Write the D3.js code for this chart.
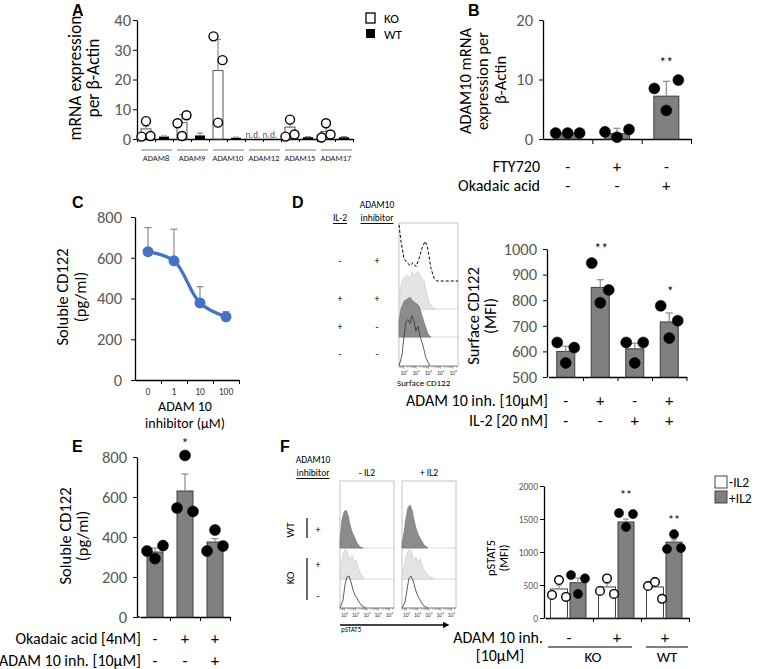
<!DOCTYPE html>
<html><head><meta charset="utf-8">
<script src="https://cdn.jsdelivr.net/npm/d3@7"></script>
<style>body{margin:0;background:#fff}svg{display:block}</style>
</head><body><svg id="c" width="758" height="669"></svg>
<script>
// ================= DATA =================
// Panel A
const aGenes=["ADAM8","ADAM9","ADAM10","ADAM12","ADAM15","ADAM17"];
const aSeries=["KO","WT"];
const aKOMean=[3.4,5.5,23,null,4,2.5];
const aKOErrTop=[4.3,8.2,33.5,null,6.7,4.2];
const aKOPts=[[0.8,6,1],[5.3,1,8],[34.5,5.5,26.5],null,[0.8,6.5,1.5],[0.5,5.3,1.5]];
const aWTMean=[0.8,1.2,0.4,null,0.6,0.6];
const aWTErrTop=[1.0,2.0,0.6,null,0.8,0.8];
const aYTicks=[0,10,20,30,40];
// Panel B
const bMean=[1.0,0.9,7.2];
const bErrTop=[1.0,1.8,9.7];
const bPts=[[1,1,1],[1.2,0.3,1.6],[8.5,4.8,9.9]];
const bFTY=["-","+","-"];
const bOka=["-","-","+"];
const bSig=["","","**"];
const bYTicks=[0,10,20];
// Panel C
const cDose=["0","1","10","100"];
const cMean=[630,585,378,310];
const cErrTop=[748,740,458,335];
const cYTicks=[0,200,400,600,800];
// Panel D (bars)
const dMean=[600,850,610,715];
const dErrTop=[620,880,632,750];
const dPts=[[635,555,615],[945,790,840],[635,555,635],[778,652,720]];
const dInh=["-","+","-","+"];
const dIL2=["-","-","+","+"];
const dSig=["","**","","*"];
const dYTicks=[500,600,700,800,900,1000];
// Panel D (histograms: [log10 MFI, count])
const dHistIL2=["-","+","+","-"];
const dHistInh=["+","+","-","-"];
const dHistDashed=[[0.6,58],[0.76,41],[1.01,23],[1.25,19],[1.5,16],[1.74,19],[1.98,15],[2.23,23],[2.47,34],[2.72,41],[2.88,37],[3.04,26],[3.2,13],[3.45,3],[3.69,0],[5.4,0]];
const dHistLight=[[0.6,9],[0.76,24],[1.01,33],[1.25,35],[1.5,32],[1.66,38],[1.9,35],[2.15,39],[2.39,33],[2.64,29],[2.8,19],[3.04,7],[3.29,2],[3.61,0]];
const dHistDark=[[0.6,17],[0.76,29],[1.01,37],[1.25,39],[1.5,41],[1.74,37],[1.98,35],[2.23,32],[2.47,22],[2.72,12],[2.96,3],[3.2,0]];
const dHistOpen=[[0.6,0],[0.84,11],[1.01,31],[1.17,46],[1.33,48],[1.5,44],[1.66,52],[1.82,46],[1.98,36],[2.15,41],[2.31,31],[2.55,21],[2.8,8],[3.12,0]];
// Panel E
const eMean=[325,630,375];
const eErrTop=[345,715,392];
const ePts=[[330,292,357],[545,808,528],[330,435,355]];
const eOka=["-","+","+"];
const eInh=["-","-","+"];
const eSig=["","*",""];
const eYTicks=[0,200,400,600,800];
// Panel F (histograms)
const fHistCols=["- IL2","+ IL2"];
const fHistWT=[
  [[0.6,8],[0.78,28],[0.96,36],[1.13,38],[1.31,33],[1.49,23],[1.67,16],[1.84,12],[2.11,5],[2.38,1],[2.64,0]],
  [[0.6,5],[0.78,15],[0.96,30],[1.13,40],[1.31,43],[1.49,38],[1.67,28],[1.84,20],[2.02,14],[2.29,8],[2.56,3],[2.91,0]]];
const fHistKOinh=[
  [[0.6,4],[0.78,19],[0.96,27],[1.13,31],[1.31,24],[1.49,19],[1.67,24],[1.84,17],[2.02,19],[2.2,11],[2.47,4],[2.73,0]],
  [[0.6,3],[0.78,12],[0.96,22],[1.13,28],[1.31,31],[1.49,25],[1.67,18],[1.84,22],[2.02,16],[2.2,20],[2.38,14],[2.56,9],[2.82,5],[3.09,2],[3.44,0]]];
const fHistKO=[
  [[0.6,0],[0.87,8],[1.04,23],[1.22,31],[1.4,32],[1.58,26],[1.76,18],[1.93,13],[2.11,10],[2.29,6],[2.56,2],[2.91,0]],
  [[0.6,0],[0.87,6],[1.04,18],[1.22,30],[1.4,32],[1.58,28],[1.76,20],[1.93,14],[2.11,10],[2.29,6],[2.56,2],[2.91,0]]];
// Panel F (bars)
const fSeries=["-IL2","+IL2"];
const fInh=["-","+","+"];
const fGeno=["KO","WT"];
const fNoMean=[440,470,470];
const fNoErrTop=[500,530,510];
const fNoPts=[[350,575,320],[410,600,365],[485,545,290]];
const fILMean=[535,1455,1150];
const fILErrTop=[606,1500,1185];
const fILPts=[[650,365,600],[1590,1380,1575],[1045,1270,1060]];
const fSig=["","**","**"];
const fYTicks=[0,500,1000,1500,2000];
const histDecades=["10¹","10²","10³","10⁴","10⁵"];

// ================= DRAWING =================
const svg=d3.select("#c");
const FONT='Carlito, Lato, "Open Sans", sans-serif';
const GREY="#595959", BARFILL="#808080", BARSTROKE="#3c3c3c", ERR="#8a8a8a";
const TF=16.5, TT=16.5, LF=16;

function txt(x,y,s,o={}){
  const t=svg.append("text").attr("x",x).attr("y",y).attr("font-size",o.fs||13)
    .attr("fill",o.fill||"#000").attr("text-anchor",o.anchor||"middle")
    .attr("dominant-baseline","central").attr("font-family",o.ff||FONT).text(s);
  if(o.bold) t.attr("font-weight","bold");
  if(o.rot) t.attr("transform",`rotate(-90,${x},${y})`);
  if(o.ul) t.attr("text-decoration","underline");
  return t;
}
function letter(x,y,s){ svg.append("text").attr("x",x).attr("y",y).attr("font-size",16).attr("font-weight","bold").attr("font-family","Liberation Sans, Arial, sans-serif").text(s); }
function leftAxis(y,x0,ticks,fs,pad){
  const g=svg.append("g").attr("transform",`translate(${x0},0)`)
    .call(d3.axisLeft(y).tickValues(ticks).tickFormat(d3.format("d")).tickSize(4).tickSizeOuter(0).tickPadding(pad==null?3:pad));
  g.select(".domain").attr("stroke","#000").attr("stroke-width",1.3);
  g.selectAll(".tick line").attr("stroke","#000");
  g.selectAll(".tick text").attr("fill",GREY).attr("font-size",fs).attr("font-family",FONT);
}
function bottomAxis(x,y0,ticks,size){
  const g=svg.append("g").attr("transform",`translate(0,${y0})`)
    .call(d3.axisBottom(x).tickValues(ticks).tickSize(size||4).tickSizeOuter(0).tickFormat(""));
  g.select(".domain").attr("stroke","#000").attr("stroke-width",1.3);
  g.selectAll(".tick line").attr("stroke","#000");
}
function errBar(x,y1,y2,cap,col){
  svg.append("line").attr("x1",x).attr("x2",x).attr("y1",y1).attr("y2",y2).attr("stroke",col||ERR).attr("stroke-width",1.2);
  svg.append("line").attr("x1",x-cap).attr("x2",x+cap).attr("y1",y2).attr("y2",y2).attr("stroke",col||ERR).attr("stroke-width",1.2);
}
function dot(x,y,r,fill){
  svg.append("circle").attr("cx",x).attr("cy",y).attr("r",r).attr("fill",fill).attr("stroke","#000").attr("stroke-width",fill==="#fff"?1.4:0.5);
}

// ---------- Panel A ----------
letter(72,16,"A");
{
  const y=d3.scaleLinear().domain([0,40]).range([139,20]);
  const xg=d3.scaleBand().domain(aGenes).range([137,353]);
  const xi=d3.scaleLinear().domain([0,12]).range([137,353]);
  leftAxis(y,137,aYTicks,TF,2);
  bottomAxis(xi,139,d3.range(0,13),3);
  const bw=10;
  aGenes.forEach((g,i)=>{
    const c=xg(g)+xg.bandwidth()/2, ko=c-9, wt=c+9;
    if(aKOMean[i]==null){
      txt(ko-1,135,"n.d.",{fs:9.5,fill:GREY}); txt(wt-2,135,"n.d.",{fs:9.5,fill:GREY});
    } else {
      svg.append("rect").attr("x",ko-bw/2).attr("y",y(aKOMean[i])).attr("width",bw).attr("height",y(0)-y(aKOMean[i])).attr("fill","#fff").attr("stroke","#555").attr("stroke-width",1);
      svg.append("rect").attr("x",wt-bw/2).attr("y",y(aWTMean[i])).attr("width",bw).attr("height",y(0)-y(aWTMean[i])).attr("fill","#000");
      errBar(ko,y(aKOMean[i]),y(aKOErrTop[i]),3);
      errBar(wt,y(aWTMean[i]),y(aWTErrTop[i]),3);
      aKOPts[i].forEach((v,j)=>dot(ko+(j-1)*4.5,y(v),4.5,"#fff"));
    }
    svg.append("line").attr("x1",xg(g)+4).attr("x2",xg(g)+xg.bandwidth()-1).attr("y1",150).attr("y2",150).attr("stroke","#555").attr("stroke-width",0.8);
    txt(c+1,158,g,{fs:8.5,fill:"#222"});
  });
  txt(75,78,"mRNA expression",{rot:true,fs:17.5});
  txt(93,78,"per β-Actin",{rot:true,fs:17.5});
  // legend
  svg.append("rect").attr("x",366).attr("y",13).attr("width",9).attr("height",10).attr("fill","#fff").attr("stroke","#000").attr("stroke-width",1.3);
  svg.append("rect").attr("x",366).attr("y",29).attr("width",9).attr("height",9).attr("fill","#000");
  txt(384,18,aSeries[0],{fs:13,anchor:"start"});
  txt(384,34,aSeries[1],{fs:13,anchor:"start"});
}

// ---------- Panel B ----------
letter(468,16,"B");
{
  const y=d3.scaleLinear().domain([0,20]).range([139,20]);
  const xg=d3.scaleBand().domain(d3.range(3)).range([543,691]);
  const xi=d3.scaleLinear().domain([0,3]).range([543,691]);
  leftAxis(y,543,bYTicks,TF,6);
  bottomAxis(xi,139,[1,2,3],5);
  bMean.forEach((m,i)=>{
    const c=xg(i)+xg.bandwidth()/2;
    svg.append("rect").attr("x",c-12.5).attr("y",y(m)).attr("width",25).attr("height",y(0)-y(m)).attr("fill",BARFILL).attr("stroke",BARSTROKE).attr("stroke-width",1);
    errBar(c,y(m),y(bErrTop[i]),3.5);
    bPts[i].forEach((v,j)=>dot(c+(j-1)*12,y(v),5.5,"#000"));
    if(bSig[i]) txt(c,62,bSig[i],{fs:14});
    txt(c,166,bFTY[i],{fs:LF}); txt(c,185,bOka[i],{fs:LF});
  });
  txt(540,166,"FTY720",{fs:LF,anchor:"end"});
  txt(540,185,"Okadaic acid",{fs:LF,anchor:"end"});
  txt(465,81,"ADAM10 mRNA",{rot:true,fs:TT});
  txt(482,81,"expression per",{rot:true,fs:TT});
  txt(500,80,"β-Actin",{rot:true,fs:TT});
}

// ---------- Panel C ----------
letter(72,208,"C");
{
  const y=d3.scaleLinear().domain([0,800]).range([380,217]);
  const x=d3.scalePoint().domain(cDose).range([148,226]);
  const xi=d3.scaleLinear().domain([0,4]).range([135,239]);
  leftAxis(y,135,cYTicks,TF,9);
  bottomAxis(xi,380,[1,2,3,4],4);
  cDose.forEach((d,i)=>{ errBar(x(d),y(cMean[i]),y(cErrTop[i]),3.5); txt(x(d),392,d,{fs:9.5,fill:"#333"}); });
  const line=d3.line().x((d,i)=>x(cDose[i])).y(d=>y(d)).curve(d3.curveCatmullRom.alpha(0.5));
  svg.append("path").attr("d",line(cMean)).attr("fill","none").attr("stroke","#4472C4").attr("stroke-width",3.2);
  cMean.forEach((m,i)=>svg.append("circle").attr("cx",x(cDose[i])).attr("cy",y(m)).attr("r",5.5).attr("fill","#4472C4"));
  txt(185,406,"ADAM 10",{fs:14});
  txt(185,423,"inhibitor (µM)",{fs:14});
  txt(62,297,"Soluble CD122",{rot:true,fs:TT});
  txt(80,297,"(pg/ml)",{rot:true,fs:TT});
}

// ---------- histogram helpers ----------
function hist(data,x,base,hy,style){
  const area=d3.area().x(d=>x(d[0])).y0(base).y1(d=>base-hy(d[1]));
  const line=d3.line().x(d=>x(d[0])).y(d=>base-hy(d[1]));
  if(style==="dashed") svg.append("path").attr("d",line(data)).attr("fill","none").attr("stroke","#000").attr("stroke-width",1).attr("stroke-dasharray","3,2");
  else if(style==="light") svg.append("path").attr("d",area(data)).attr("fill","#e4e4e4").attr("stroke","#cfcfcf").attr("stroke-width",0.8);
  else if(style==="dark") svg.append("path").attr("d",area(data)).attr("fill","#8c8c8c").attr("stroke","#7a7a7a").attr("stroke-width",0.8);
  else svg.append("path").attr("d",line(data)).attr("fill","none").attr("stroke","#333").attr("stroke-width",0.8);
}
function histAxis(xl,x0,x1,y0,labelFs){
  svg.append("line").attr("x1",x0).attr("x2",x1).attr("y1",y0).attr("y2",y0).attr("stroke","#888").attr("stroke-width",0.8);
  const xs=d3.scaleLog().domain([Math.pow(10,0.6),Math.pow(10,5.4)]).range([x0,x1]);
  xs.ticks().forEach(t=>{
    const major=Math.abs(Math.log10(t)-Math.round(Math.log10(t)))<1e-9;
    svg.append("line").attr("x1",xs(t)).attr("x2",xs(t)).attr("y1",y0).attr("y2",y0+(major?3:1.8)).attr("stroke","#777").attr("stroke-width",0.5);
  });
  histDecades.forEach((s,i)=>txt(xl(i+1),y0+6.5,s,{fs:labelFs,fill:"#333"}));
}

// ---------- Panel D histograms ----------
letter(292,208,"D");
{
  const x0=399,x1=458,top=223,bases=[281,309,337,366];
  const x=d3.scaleLinear().domain([0.6,5.4]).range([x0,x1]);
  const hy=d3.scaleLinear().domain([0,60]).range([0,58]);
  svg.append("rect").attr("x",x0).attr("y",top).attr("width",x1-x0).attr("height",bases[3]-top).attr("fill","none").attr("stroke","#c4c4c4").attr("stroke-width",1);
  [309,337].forEach(b=>svg.append("line").attr("x1",x0).attr("x2",x1).attr("y1",b).attr("y2",b).attr("stroke","#cfcfcf").attr("stroke-width",0.8));
  hist(dHistDashed,x,bases[0],hy,"dashed");
  hist(dHistLight,x,bases[1],hy,"light");
  hist(dHistDark,x,bases[2],hy,"dark");
  hist(dHistOpen,x,bases[3],hy,"open");
  histAxis(x,x0,x1,bases[3],5.5);
  txt(x0-2,382,"Surface CD122",{fs:9,anchor:"start"});
  txt(340,218,"IL-2",{fs:9.5,ul:true});
  txt(377,205,"ADAM10",{fs:9.5});
  txt(377,218,"inhibitor",{fs:9.5,ul:true});
  const rowY=[260,298,326,353];
  rowY.forEach((ry,i)=>{ txt(340,ry,dHistIL2[i],{fs:10}); txt(377,ry,dHistInh[i],{fs:10}); });
}
// ---------- Panel D bars ----------
{
  const y=d3.scaleLinear().domain([500,1000]).range([377,249]);
  const xg=d3.scaleBand().domain(d3.range(4)).range([548.5,686.5]);
  const xi=d3.scaleLinear().domain([0,4]).range([548.5,686.5]);
  leftAxis(y,547,dYTicks,TF,6);
  bottomAxis(xi,377,[1,2,3,4],4);
  dMean.forEach((m,i)=>{
    const c=xg(i)+xg.bandwidth()/2;
    svg.append("rect").attr("x",c-9).attr("y",y(m)).attr("width",18).attr("height",y(500)-y(m)).attr("fill",BARFILL).attr("stroke",BARSTROKE).attr("stroke-width",1);
    errBar(c,y(m),y(dErrTop[i]),3.5);
    dPts[i].forEach((v,j)=>dot(c+(j-1)*8.5,y(v),5.5,"#000"));
    if(dSig[i]) txt(c+1,dSig[i]==="**"?248:291,dSig[i],{fs:14});
    txt(c,400,dInh[i],{fs:LF}); txt(c,420,dIL2[i],{fs:LF});
  });
  txt(548,400,"ADAM 10 inh. [10µM]",{fs:LF,anchor:"end"});
  txt(548,420,"IL-2 [20 nM]",{fs:LF,anchor:"end"});
  txt(473,316,"Surface CD122",{rot:true,fs:TT});
  txt(490,316,"(MFI)",{rot:true,fs:TT});
}

// ---------- Panel E ----------
letter(72,452,"E");
{
  const y=d3.scaleLinear().domain([0,800]).range([617,457]);
  const xg=d3.scaleBand().domain(d3.range(3)).range([140,230]);
  const xi=d3.scaleLinear().domain([0,3]).range([140,230]);
  leftAxis(y,137,eYTicks,TF,6);
  bottomAxis(xi,617,[1,2,3],4);
  svg.append("line").attr("x1",137).attr("x2",140).attr("y1",617).attr("y2",617).attr("stroke","#000").attr("stroke-width",1.3);
  eMean.forEach((m,i)=>{
    const c=xg(i)+xg.bandwidth()/2;
    svg.append("rect").attr("x",c-8).attr("y",y(m)).attr("width",16).attr("height",y(0)-y(m)).attr("fill",BARFILL).attr("stroke",BARSTROKE).attr("stroke-width",1);
    errBar(c,y(m),y(eErrTop[i]),3.5);
    ePts[i].forEach((v,j)=>dot(c+(j-1)*8,y(v),5.5,"#000"));
    if(eSig[i]) txt(c,443,eSig[i],{fs:14});
    txt(c,638,eOka[i],{fs:LF}); txt(c,660,eInh[i],{fs:LF});
  });
  txt(141,638,"Okadaic acid [4nM]",{fs:LF,anchor:"end"});
  txt(141,660,"ADAM 10 inh. [10µM]",{fs:LF,anchor:"end"});
  txt(65,536,"Soluble CD122",{rot:true,fs:TT});
  txt(82,536,"(pg/ml)",{rot:true,fs:TT});
}

// ---------- Panel F histograms ----------
letter(280,452,"F");
{
  const boxes=[[340,394],[402,456]], top=481, bases=[548,579,608];
  const hy=d3.scaleLinear().domain([0,60]).range([0,60]);
  boxes.forEach(([x0,x1],k)=>{
    const x=d3.scaleLinear().domain([0.6,5.4]).range([x0,x1]);
    svg.append("rect").attr("x",x0).attr("y",top).attr("width",x1-x0).attr("height",bases[2]-top).attr("fill","none").attr("stroke","#c4c4c4").attr("stroke-width",1);
    [548,579].forEach(b=>svg.append("line").attr("x1",x0).attr("x2",x1).attr("y1",b).attr("y2",b).attr("stroke","#cfcfcf").attr("stroke-width",0.8));
    hist(fHistWT[k],x,bases[0],hy,"dark");
    hist(fHistKOinh[k],x,bases[1],hy,"light");
    hist(fHistKO[k],x,bases[2],hy,"open");
    histAxis(x,x0,x1,bases[2],5.5);
    txt((x0+x1)/2,473,fHistCols[k],{fs:9.5});
  });
  txt(313,460,"ADAM10",{fs:9.5});
  txt(313,473,"inhibitor",{fs:9.5,ul:true});
  txt(290,530,"WT",{rot:true,fs:11});
  txt(290,578,"KO",{rot:true,fs:11});
  svg.append("line").attr("x1",307).attr("x2",307).attr("y1",518).attr("y2",538).attr("stroke","#444").attr("stroke-width",1.6);
  svg.append("line").attr("x1",307).attr("x2",307).attr("y1",558).attr("y2",600).attr("stroke","#444").attr("stroke-width",1.6);
  txt(318,529,"+",{fs:10}); txt(318,564,"+",{fs:10}); txt(318,595,"-",{fs:10});
  txt(341,629,"pSTAT5",{fs:7,anchor:"start"});
  svg.append("defs").append("marker").attr("id","arr").attr("viewBox","0 0 10 10").attr("refX",8).attr("refY",5)
    .attr("markerWidth",5).attr("markerHeight",5).attr("orient","auto").append("path").attr("d","M0,0L10,5L0,10z").attr("fill","#000");
  svg.append("line").attr("x1",340).attr("x2",448).attr("y1",625).attr("y2",625).attr("stroke","#000").attr("stroke-width",1.3).attr("marker-end","url(#arr)");
}
// ---------- Panel F bars ----------
{
  const y=d3.scaleLinear().domain([0,2000]).range([618,486]);
  const xg=d3.scaleBand().domain(d3.range(3)).range([545,689]);
  const xi=d3.scaleLinear().domain([0,3]).range([545,689]);
  leftAxis(y,544,fYTicks,9.5,2);
  bottomAxis(xi,618,[1,2,3],4);
  fNoMean.forEach((m,i)=>{
    const c=xg(i)+xg.bandwidth()/2, w=c-10, g=c+9;
    svg.append("rect").attr("x",w-8.5).attr("y",y(m)).attr("width",17).attr("height",y(0)-y(m)).attr("fill","#fff").attr("stroke","#444").attr("stroke-width",1);
    svg.append("rect").attr("x",g-8).attr("y",y(fILMean[i])).attr("width",16).attr("height",y(0)-y(fILMean[i])).attr("fill",BARFILL).attr("stroke",BARSTROKE).attr("stroke-width",1);
    errBar(w,y(m),y(fNoErrTop[i]),3);
    errBar(g,y(fILMean[i]),y(fILErrTop[i]),3);
    fNoPts[i].forEach((v,j)=>dot(w+(j-1)*7,y(v),4.3,"#fff"));
    fILPts[i].forEach((v,j)=>dot(g+(j-1)*7,y(v),4.6,"#000"));
    if(fSig[i]) txt(g,i===1?495:520,fSig[i],{fs:12});
    txt(c,637,fInh[i],{fs:LF});
  });
  svg.append("line").attr("x1",548).attr("x2",632).attr("y1",647).attr("y2",647).attr("stroke","#000").attr("stroke-width",1);
  svg.append("line").attr("x1",646).attr("x2",688).attr("y1",647).attr("y2",647).attr("stroke","#000").attr("stroke-width",1);
  txt(593,657,fGeno[0],{fs:15}); txt(667,657,fGeno[1],{fs:15});
  txt(543,637,"ADAM 10 inh.",{fs:LF,anchor:"end"});
  txt(500,655,"[10µM]",{fs:LF});
  txt(490,558,"pSTAT5",{rot:true,fs:12.5});
  txt(503,558,"(MFI)",{rot:true,fs:12.5});
  // legend
  svg.append("rect").attr("x",715).attr("y",476).attr("width",12).attr("height",12).attr("fill","#fff").attr("stroke","#444").attr("stroke-width",1);
  svg.append("rect").attr("x",715).attr("y",491).attr("width",12).attr("height",12).attr("fill",BARFILL).attr("stroke","#444").attr("stroke-width",1);
  txt(729,482,fSeries[0],{fs:13.5,anchor:"start"});
  txt(729,498,fSeries[1],{fs:13.5,anchor:"start"});
}
</script></body></html>
